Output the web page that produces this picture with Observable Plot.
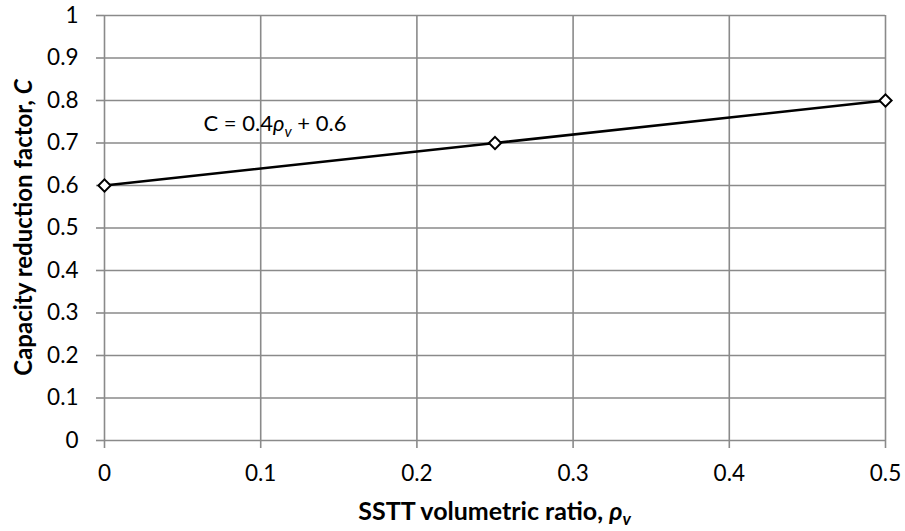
<!DOCTYPE html>
<html>
<head>
<meta charset="utf-8">
<script src="https://cdn.jsdelivr.net/npm/d3@7"></script>
<script src="https://cdn.jsdelivr.net/npm/@observablehq/plot@0.6"></script>
<style>
  html, body { margin: 0; padding: 0; background: #fff; }
  #chart { width: 905px; height: 531px; }
  #chart svg g[aria-label$="tick label"] text { font-size: 22.5px !important; }
</style>
</head>
<body>
<div id="chart"></div>
<script>
// Data
const rho = [0, 0.25, 0.5];
const capacity = [0.6, 0.7, 0.8];
const xTicks = [0, 0.1, 0.2, 0.3, 0.4, 0.5];
const yTicks = [0, 0.1, 0.2, 0.3, 0.4, 0.5, 0.6, 0.7, 0.8, 0.9, 1];
const xTitle = ["SSTT volumetric ratio, ", "ρ", "v"];
const yTitle = ["Capacity reduction factor, ", "C"];
const equationPos = [{ x: 0.0634, y: 0.745 }];
const equationParts = ["C = 0.4", "ρ", "v", " + 0.6"];

const points = rho.map((r, i) => ({ x: r, y: capacity[i] }));
const fmt = d => String(+d.toFixed(1));
const gridColor = "#8a8a8a";
const ff = "Lato, 'Open Sans', sans-serif";
const tickFont = 22.5;
const titleFont = 25;
const eqText = equationParts.join("");

const plot = Plot.plot({
  width: 905,
  height: 531,
  marginLeft: 104,
  marginRight: 20,
  marginTop: 15,
  marginBottom: 91,
  style: { fontFamily: ff, fontSize: tickFont + "px", background: "#fff", color: "#000" },
  x: { domain: [0, 0.5], ticks: xTicks, tickFormat: fmt },
  y: { domain: [0, 1], ticks: yTicks, tickFormat: fmt },
  marks: [
    Plot.gridX(xTicks, { stroke: gridColor, strokeOpacity: 1, strokeWidth: 1.6 }),
    Plot.gridY(yTicks, { stroke: gridColor, strokeOpacity: 1, strokeWidth: 1.6 }),
    Plot.axisX(xTicks, { tickSize: 8, tickPadding: 17, stroke: gridColor, strokeWidth: 1.6, fill: "#000", label: null, tickFormat: fmt, fontSize: tickFont }),
    Plot.axisY(yTicks, { tickSize: 8, tickPadding: 18, stroke: gridColor, strokeWidth: 1.6, fill: "#000", label: null, tickFormat: fmt, fontSize: tickFont }),
    Plot.line(points, { x: "x", y: "y", stroke: "#000", strokeWidth: 2.6 }),
    Plot.dot(points, { x: "x", y: "y", symbol: "diamond2", r: 5.5, fill: "#fff", stroke: "#000", strokeWidth: 2 }),
    Plot.text(equationPos, { x: "x", y: "y", text: () => eqText, textAnchor: "start", lineAnchor: "middle", fontSize: 22, fill: "#000" })
  ]
});

document.getElementById("chart").appendChild(plot);

const svg = d3.select(plot);

// Equation annotation with italic subscript
svg.selectAll("text").filter(function () { return this.textContent === eqText; }).each(function () {
  const t = d3.select(this);
  t.text(null);
  t.append("tspan").text(equationParts[0]);
  t.append("tspan").attr("font-style", "italic").text(equationParts[1]);
  t.append("tspan").attr("font-style", "italic").attr("font-size", 15).attr("dy", 6).text(equationParts[2]);
  t.append("tspan").attr("dy", -6).text(equationParts[3]);
});

// X axis title
const xt = svg.append("text")
  .attr("x", (104 + 885) / 2)
  .attr("y", 511)
  .attr("dy", "0.35em")
  .attr("text-anchor", "middle")
  .attr("font-family", ff)
  .attr("font-weight", "bold")
  .attr("font-size", titleFont)
  .attr("fill", "#000");
xt.append("tspan").text(xTitle[0]);
xt.append("tspan").attr("font-style", "italic").text(xTitle[1]);
xt.append("tspan").attr("font-style", "italic").attr("font-size", 17).attr("dy", 5).text(xTitle[2]);

// Y axis title
const yt = svg.append("text")
  .attr("transform", `translate(24,${(15 + 440) / 2}) rotate(-90)`)
  .attr("dy", "0.35em")
  .attr("text-anchor", "middle")
  .attr("font-family", ff)
  .attr("font-weight", "bold")
  .attr("font-size", 24)
  .attr("fill", "#000");
yt.append("tspan").text(yTitle[0]);
yt.append("tspan").attr("font-style", "italic").text(yTitle[1]);
</script>
</body>
</html>
